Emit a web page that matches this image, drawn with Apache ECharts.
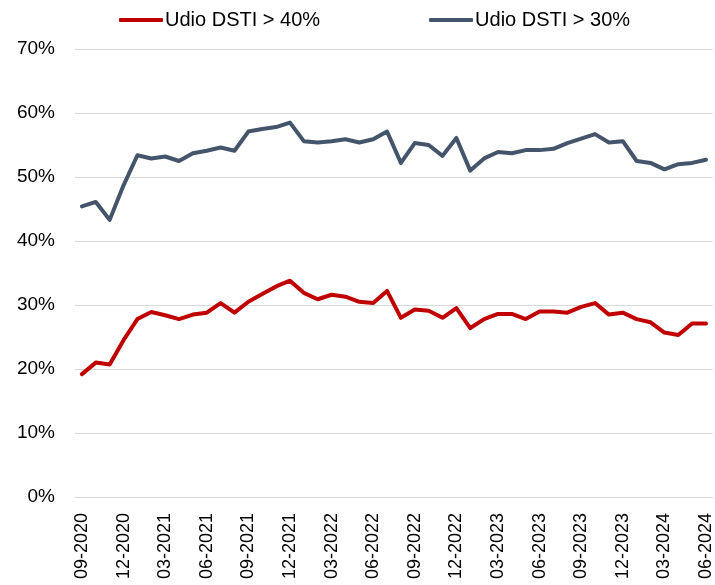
<!DOCTYPE html>
<html>
<head>
<meta charset="utf-8">
<script src="https://cdn.jsdelivr.net/npm/echarts@6/dist/echarts.min.js"></script>
<style>
  html, body { margin: 0; padding: 0; background: #ffffff; }
  #chart { width: 715px; height: 585px; }
</style>
</head>
<body>
<div id="chart"></div>
<script>
// Monthly observations, September 2020 to June 2024
const months = [
  '09-2020', '10-2020', '11-2020', '12-2020',
  '01-2021', '02-2021', '03-2021', '04-2021', '05-2021', '06-2021',
  '07-2021', '08-2021', '09-2021', '10-2021', '11-2021', '12-2021',
  '01-2022', '02-2022', '03-2022', '04-2022', '05-2022', '06-2022',
  '07-2022', '08-2022', '09-2022', '10-2022', '11-2022', '12-2022',
  '01-2023', '02-2023', '03-2023', '04-2023', '05-2023', '06-2023',
  '07-2023', '08-2023', '09-2023', '10-2023', '11-2023', '12-2023',
  '01-2024', '02-2024', '03-2024', '04-2024', '05-2024', '06-2024'
];

// Share of loans (%) with DSTI above 40%
const dstiAbove40 = [
  19.2, 21.0, 20.7, 24.5,
  27.8, 28.9, 28.4, 27.8, 28.5, 28.8,
  30.3, 28.8, 30.5, 31.7, 32.9, 33.8,
  31.9, 30.9, 31.6, 31.3, 30.5, 30.3,
  32.2, 28.0, 29.3, 29.1, 28.0, 29.5,
  26.4, 27.8, 28.6, 28.6, 27.8, 29.0,
  29.0, 28.8, 29.7, 30.3, 28.5, 28.8,
  27.8, 27.3, 25.7, 25.3, 27.1, 27.1
];

// Share of loans (%) with DSTI above 30%
const dstiAbove30 = [
  45.4, 46.1, 43.3, 48.7,
  53.4, 52.9, 53.2, 52.5, 53.7, 54.1,
  54.6, 54.1, 57.1, 57.5, 57.8, 58.5,
  55.6, 55.4, 55.6, 55.9, 55.4, 55.9,
  57.1, 52.2, 55.3, 55.0, 53.3, 56.1,
  51.0, 52.9, 53.9, 53.7, 54.2, 54.2,
  54.4, 55.3, 56.0, 56.7, 55.4, 55.6,
  52.5, 52.2, 51.2, 52.0, 52.2, 52.7
];

const seriesNames = ['Udio DSTI > 40%', 'Udio DSTI > 30%'];
const yTicks = { min: 0, max: 70, step: 10 };

const RED = '#C00000';
const SLATE = '#44546A';
const FONT = '"Liberation Sans", Arial, sans-serif';

const chart = echarts.init(document.getElementById('chart'), null, { renderer: 'canvas' });

chart.setOption({
  animation: false,
  backgroundColor: '#ffffff',
  textStyle: { fontFamily: FONT, color: '#000000' },
  legend: {
    top: 5,
    left: 114,
    itemWidth: 44,
    itemHeight: 4,
    itemGap: 109,
    icon: 'roundRect',
    textStyle: { fontFamily: FONT, fontSize: 20, color: '#000000', padding: [0, 0, 0, -3] },
    data: seriesNames
  },
  grid: {
    left: 75,
    right: 2,
    top: 49,
    bottom: 88,
    containLabel: false
  },
  xAxis: {
    type: 'category',
    data: months,
    boundaryGap: true,
    axisLine: { show: true, lineStyle: { color: '#d9d9d9', width: 1 } },
    axisTick: { show: false },
    axisLabel: {
      interval: 2,
      rotate: 90,
      margin: 16,
      fontFamily: FONT,
      fontSize: 18,
      color: '#000000'
    },
    splitLine: { show: false }
  },
  yAxis: {
    type: 'value',
    min: yTicks.min,
    max: yTicks.max,
    interval: yTicks.step,
    axisLine: { show: false },
    axisTick: { show: false },
    axisLabel: {
      formatter: '{value}%',
      margin: 20,
      fontFamily: FONT,
      fontSize: 19,
      color: '#000000'
    },
    splitLine: { show: true, lineStyle: { color: '#d9d9d9', width: 1 } }
  },
  series: [
    {
      name: seriesNames[0],
      type: 'line',
      data: dstiAbove40,
      symbol: 'none',
      color: RED,
      lineStyle: { color: RED, width: 4, join: 'round', cap: 'round' }
    },
    {
      name: seriesNames[1],
      type: 'line',
      data: dstiAbove30,
      symbol: 'none',
      color: SLATE,
      lineStyle: { color: SLATE, width: 4, join: 'round', cap: 'round' }
    }
  ]
});
</script>
</body>
</html>
